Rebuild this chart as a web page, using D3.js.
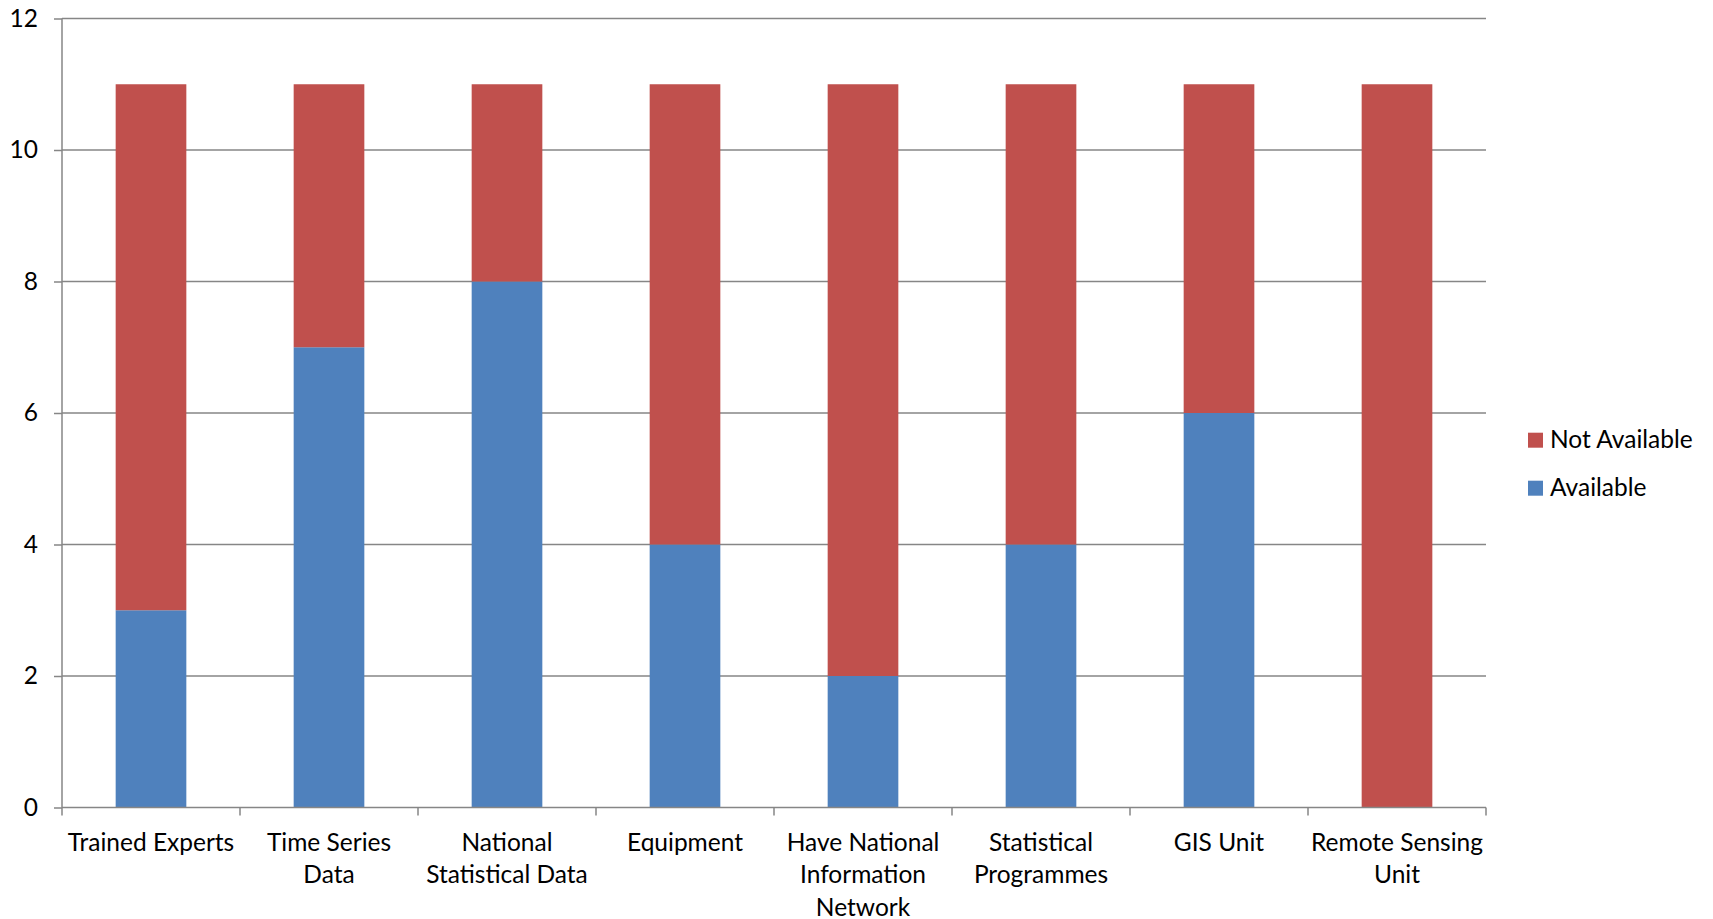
<!DOCTYPE html>
<html>
<head>
<meta charset="utf-8">
<script src="https://cdn.jsdelivr.net/npm/d3@7"></script>
<style>
html,body{margin:0;padding:0;background:#fff;}
svg{display:block;}
text{font-family:Lato, "Open Sans", sans-serif;fill:#000;}
</style>
</head>
<body>
<svg id="chart" width="1713" height="919"></svg>
<script>
const categories = ["Trained Experts","Time Series Data","National Statistical Data","Equipment","Have National Information Network","Statistical Programmes","GIS Unit","Remote Sensing Unit"];
const categoryLines = [["Trained Experts"],["Time Series","Data"],["National","Statistical Data"],["Equipment"],["Have National","Information","Network"],["Statistical","Programmes"],["GIS Unit"],["Remote Sensing","Unit"]];
const available = [3,7,8,4,2,4,6,0];
const notAvailable = [8,4,3,7,9,7,5,11];
const seriesNames = ["Available","Not Available"];
const seriesColors = ["#4F81BD","#C0504D"];
const yTicks = [0,2,4,6,8,10,12];

const svg = d3.select("#chart");
const m = {left:62, right:1713-1486, top:18.5, bottom:919-807.5};
const W = 1713 - m.left - m.right, H = 919 - m.top - m.bottom;
const g = svg.append("g").attr("transform",`translate(${m.left},${m.top})`);

const x = d3.scaleBand().domain(categories).range([0,W]).paddingInner(0.603).paddingOuter(0.3015);
const xb = d3.scaleBand().domain(categories).range([0,W]);
const y = d3.scaleLinear().domain([0,12]).range([H,0]);

const axisColor = "#868686";
const fs = "24.5px";

// gridlines
g.append("g").selectAll("line").data(yTicks.filter(d=>d>0)).join("line")
  .attr("x1",0).attr("x2",W).attr("y1",d=>y(d)).attr("y2",d=>y(d))
  .attr("stroke",axisColor).attr("stroke-width",1.5);

// stacked data
const rows = categories.map((c,i)=>({cat:c, Available:available[i], "Not Available":notAvailable[i]}));
const stack = d3.stack().keys(seriesNames)(rows);
g.append("g").selectAll("g").data(stack).join("g")
  .attr("fill",(d,i)=>seriesColors[i])
  .selectAll("rect").data(d=>d).join("rect")
  .attr("x",d=>x(d.data.cat)).attr("width",x.bandwidth())
  .attr("y",d=>y(d[1])).attr("height",d=>y(d[0])-y(d[1]));

// y axis
const yAxis = g.append("g").call(d3.axisLeft(y).tickValues(yTicks).tickSize(8).tickPadding(16).tickFormat(d3.format("d")));
yAxis.select(".domain").attr("stroke",axisColor).attr("stroke-width",1.5).attr("d",`M0,${H}V0`);
yAxis.selectAll(".tick line").attr("stroke",axisColor).attr("stroke-width",1.5);
yAxis.selectAll(".tick text").attr("font-size",fs).attr("font-family","Lato, sans-serif").attr("fill","#000");

// x axis
const xAxisG = g.append("g").attr("transform",`translate(0,${H})`);
xAxisG.append("line").attr("x1",0).attr("x2",W).attr("y1",0).attr("y2",0).attr("stroke",axisColor).attr("stroke-width",1.5);
const bounds = categories.map(c=>xb(c)).concat([W]);
xAxisG.selectAll("line.tk").data(bounds).join("line").attr("class","tk")
  .attr("x1",d=>d).attr("x2",d=>d).attr("y1",0).attr("y2",8)
  .attr("stroke",axisColor).attr("stroke-width",1.5);
xAxisG.selectAll("text.lbl").data(categories).join("text").attr("class","lbl")
  .attr("text-anchor","middle").attr("font-size",fs)
  .attr("x",d=>xb(d)+xb.bandwidth()/2)
  .each(function(d,i){
    const t = d3.select(this);
    categoryLines[i].forEach((ln,j)=>{
      t.append("tspan").attr("x",xb(d)+xb.bandwidth()/2).attr("y",43.5+j*32.3).text(ln);
    });
  });

// legend
const legend = svg.append("g");
const legendOrder = [1,0];
legendOrder.forEach((si,k)=>{
  const ly = 432.7 + k*48;
  legend.append("rect").attr("x",1528).attr("y",ly).attr("width",15).attr("height",15).attr("fill",seriesColors[si]);
  legend.append("text").attr("x",1550).attr("y",ly+15).attr("font-size",fs).text(seriesNames[si]);
});
</script>
</body>
</html>
